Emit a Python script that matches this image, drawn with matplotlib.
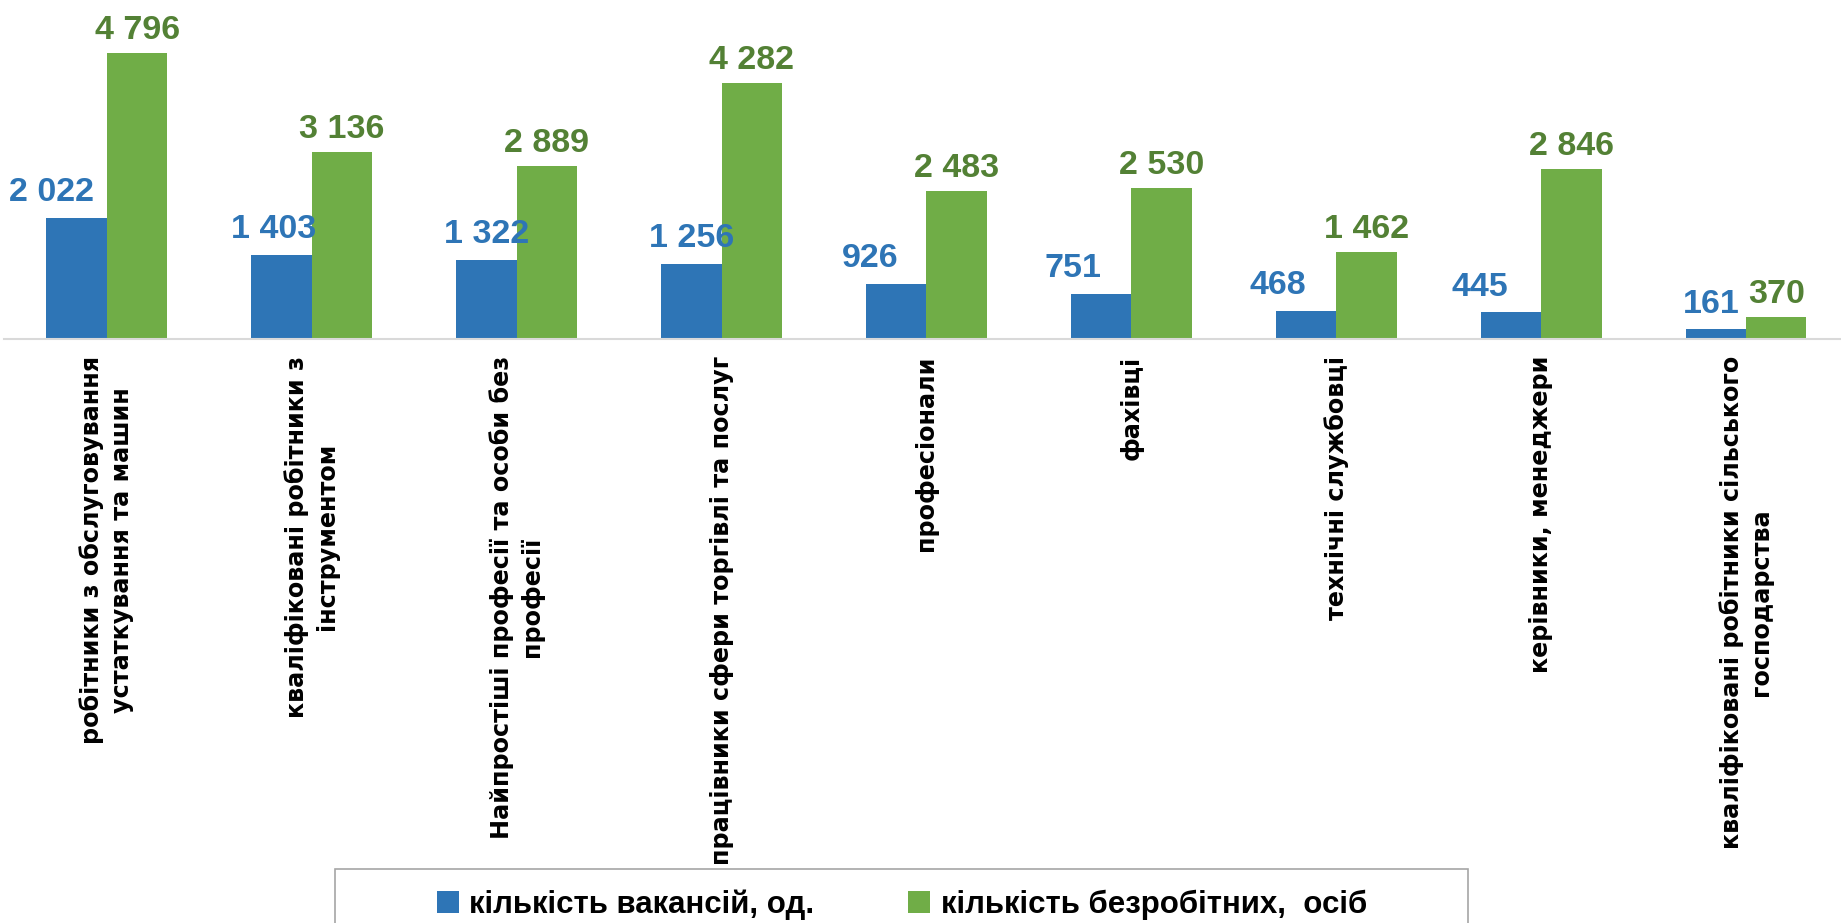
import matplotlib.pyplot as plt
import matplotlib.patches as mpatches
import numpy as np
from matplotlib import font_manager

categories = [
    'робітники з обслуговування\nустаткування та машин',
    'кваліфіковані робітники з\nінструментом',
    'Найпростіші професії та особи без\nпрофесії',
    'працівники сфери торгівлі та послуг',
    'професіонали',
    'фахівці',
    'технічні службовці',
    'керівники, менеджери',
    'кваліфіковані робітники сільського\nгосподарства',
]
vacancies = [2022, 1403, 1322, 1256, 926, 751, 468, 445, 161]
unemployed = [4796, 3136, 2889, 4282, 2483, 2530, 1462, 2846, 370]
series_names = ['кількість вакансій, од.', 'кількість безробітних,  осіб']

# manual shift of blue value labels (points), as placed in the original
blue_dx = [-18, -6, 0, 0, -19, -20, -20, -22, -3]

names = {f.name for f in font_manager.fontManager.ttflist}
narrow = 'Liberation Sans Narrow' if 'Liberation Sans Narrow' in names else 'Liberation Sans'

blue = '#2E75B6'
green = '#70AD47'
green_txt = '#538135'

fig = plt.figure(figsize=(18.41, 9.23), dpi=100)
W, H = 1841, 923
ax = fig.add_axes([4.4 / W, 1 - 339 / H, 1844 / W, 339 / H])
ax.set_facecolor('none')

x = np.arange(len(categories))
w = 0.295
b1 = ax.bar(x - w / 2, vacancies, w, color=blue, label=series_names[0], zorder=2)
b2 = ax.bar(x + w / 2, unemployed, w, color=green, label=series_names[1], zorder=2)

ax.set_xlim(-0.5, len(categories) - 0.5)
ax.set_ylim(0, 5675)

def fmt(v):
    return f'{v:,}'.replace(',', ' ')

for i, r in enumerate(b1):
    ax.annotate(fmt(vacancies[i]), (r.get_x() + r.get_width() / 2, r.get_height()),
                xytext=(blue_dx[i], 7), textcoords='offset points', ha='center', va='bottom',
                fontsize=24.5, fontweight='bold', color=blue, family=narrow, annotation_clip=False)
for i, r in enumerate(b2):
    ax.annotate(fmt(unemployed[i]), (r.get_x() + r.get_width() / 2, r.get_height()),
                xytext=(0, 5), textcoords='offset points', ha='center', va='bottom',
                fontsize=24.5, fontweight='bold', color=green_txt, family=narrow, annotation_clip=False)

for s in ['top', 'right', 'left']:
    ax.spines[s].set_visible(False)
ax.spines['bottom'].set_color('#d9d9d9')
ax.spines['bottom'].set_linewidth(1.5)
ax.set_yticks([])
ax.set_xticks(x)
ax.set_xticklabels(categories, rotation=90, ha='center', va='top', multialignment='center',
                   fontsize=17.2, fontweight='bold', family='DejaVu Sans', linespacing=1.3)
ax.tick_params(axis='x', length=0, pad=12)

# legend box runs past the bottom edge in the original
fig.patches.append(mpatches.Rectangle((335 / W, -0.1), (1468 - 335) / W, (923 - 869) / H + 0.1,
                                      transform=fig.transFigure, fill=False,
                                      edgecolor='#a6a6a6', linewidth=1.2))
leg = fig.legend(handles=[b1, b2], labels=series_names, loc='center',
                 bbox_to_anchor=(902 / W, 1 - 905 / H), ncol=2, frameon=False,
                 prop={'family': narrow, 'weight': 'bold', 'size': 22.5},
                 handlelength=0.7, handleheight=0.7, handletextpad=0.35, columnspacing=3.0,
                 borderpad=0, borderaxespad=0)

fig.savefig('out.png', dpi=100)
